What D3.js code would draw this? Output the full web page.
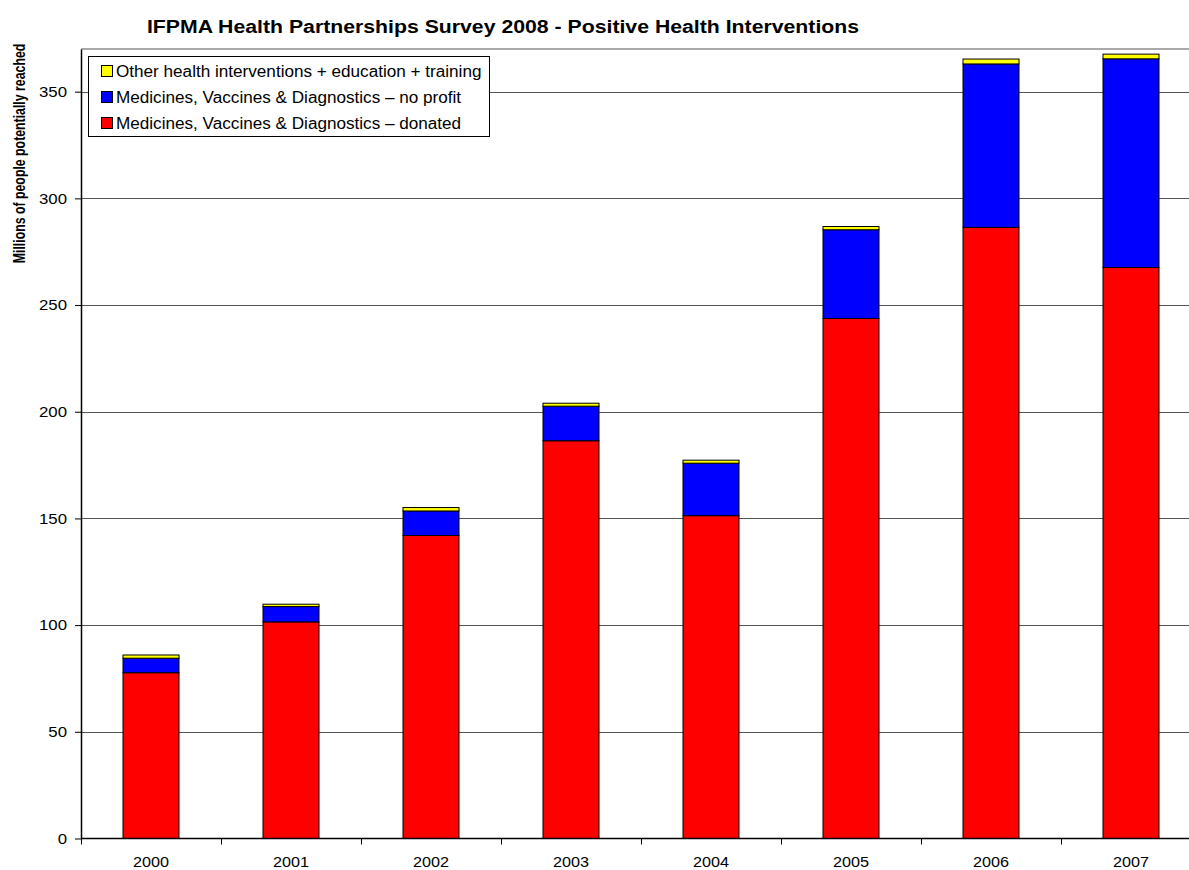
<!DOCTYPE html>
<html>
<head>
<meta charset="utf-8">
<script src="https://cdn.jsdelivr.net/npm/d3@7"></script>
<style>
   body { margin: 0; background: #fff; }
   svg { display: block; font-family: "Liberation Sans", Arial, sans-serif; }
</style>
</head>
<body>
<script>
// values, millions of people
const years = ["2000", "2001", "2002", "2003", "2004", "2005", "2006", "2007"];
const donated = [77.7, 101.5, 142.0, 186.4, 151.3, 243.7, 286.4, 267.6];
const noProfit = [6.8, 7.2, 11.5, 16.2, 24.6, 41.6, 76.6, 97.8];
const otherHealth = [1.5, 1.1, 1.6, 1.4, 1.4, 1.5, 2.3, 2.2];
const yTicks = [0, 50, 100, 150, 200, 250, 300, 350];

const seriesNames = [
   "Medicines, Vaccines & Diagnostics \u2013 donated",
   "Medicines, Vaccines & Diagnostics \u2013 no profit",
   "Other health interventions + education + training"
];
const colours = ["#ff0000", "#0000ff", "#ffff00"];

const W = 1189, H = 870;
const m = { top: 49, left: 81, bottom: 838.5 };
const plotRight = 1201;   // plot runs past the window edge in the original

// the original's text is drawn a bit wider than the font
function stretch(sel, f) {
   sel.each(function() {
      let len = this.getComputedTextLength();
      d3.select(this)
         .attr("textLength", len * f)
         .attr("lengthAdjust", "spacingAndGlyphs");
   });
}

let rows = years.map((y, i) => ({ year: y, d0: donated[i], d1: noProfit[i], d2: otherHealth[i] }));
let stack = d3.stack().keys(["d0", "d1", "d2"])(rows);

let svg = d3.select("body").append("svg")
   .attr("width", W)
   .attr("height", H);

let x = d3.scaleBand()
   .domain(years)
   .range([m.left, plotRight])
   .paddingInner(0.6)
   .paddingOuter(0.3);

let y = d3.scaleLinear()
   .domain([0, 370])
   .range([m.bottom, m.top]);

// plot frame top + gridlines
svg.append("line")
   .attr("x1", m.left).attr("x2", W)
   .attr("y1", m.top).attr("y2", m.top)
   .attr("stroke", "#8c8c8c").attr("stroke-width", 1.5);

svg.append("g")
   .selectAll("line")
   .data(yTicks.slice(1))
 .enter().append("line")
   .attr("x1", m.left).attr("x2", W)
   .attr("y1", d => Math.round(y(d)) + 0.5)
   .attr("y2", d => Math.round(y(d)) + 0.5)
   .attr("stroke", "#555").attr("stroke-width", 1);

// bars
let layer = svg.append("g").selectAll("g")
   .data(stack)
 .enter().append("g")
   .attr("fill", (d, i) => colours[i]);

layer.selectAll("rect")
   .data(d => d)
 .enter().append("rect")
   .attr("x", d => x(d.data.year))
   .attr("width", x.bandwidth())
   .attr("y", d => y(d[1]))
   .attr("height", d => y(d[0]) - y(d[1]))
   .attr("stroke", "#000")
   .attr("stroke-width", 1);

// y axis
let yAxis = svg.append("g")
   .attr("transform", "translate(" + m.left + ",0)")
   .call(d3.axisLeft(y).tickValues(yTicks).tickSizeInner(6).tickSizeOuter(0).tickPadding(8));
yAxis.select(".domain").attr("stroke", "#000").attr("stroke-width", 1.5);
yAxis.selectAll("line").attr("stroke", "#000");
yAxis.selectAll("text").attr("font-size", 15).attr("fill", "#000")
   .attr("font-family", "Liberation Sans, Arial, sans-serif")
   .call(stretch, 1.12);

// x axis: ticks on category boundaries
let xg = svg.append("g");
xg.append("line")
   .attr("x1", m.left).attr("x2", W)
   .attr("y1", m.bottom).attr("y2", m.bottom)
   .attr("stroke", "#000").attr("stroke-width", 1.5);

let edge = (x.step() - x.bandwidth()) / 2;
let bounds = years.map(d => x(d) - edge).concat([x(years[years.length - 1]) + x.bandwidth() + edge]);
xg.selectAll(".xt")
   .data(bounds)
 .enter().append("line")
   .attr("class", "xt")
   .attr("x1", d => Math.round(d) + 0.5).attr("x2", d => Math.round(d) + 0.5)
   .attr("y1", m.bottom).attr("y2", m.bottom + 6)
   .attr("stroke", "#000");

xg.selectAll(".xl")
   .data(years)
 .enter().append("text")
   .attr("class", "xl")
   .attr("x", d => x(d) + x.bandwidth() / 2)
   .attr("y", 867)
   .attr("text-anchor", "middle")
   .attr("font-size", 15)
   .text(d => d)
   .call(stretch, 1.08);

// titles
svg.append("text")
   .attr("x", 503)
   .attr("y", 33)
   .attr("text-anchor", "middle")
   .attr("font-weight", "bold")
   .attr("font-size", 18)
   .text("IFPMA Health Partnerships Survey 2008 - Positive Health Interventions")
   .call(stretch, 1.18);

// condensed axis title: squeeze along its own length
svg.append("text")
   .attr("transform", "translate(24.5,153.5) rotate(-90) scale(0.77,1)")
   .attr("text-anchor", "middle")
   .attr("font-weight", "bold")
   .attr("font-size", 16)
   .text("Millions of people potentially reached");

// legend, top entry is the top of the stack
let legend = svg.append("g");
legend.append("rect")
   .attr("x", 88.5).attr("y", 56.5)
   .attr("width", 401).attr("height", 80)
   .attr("fill", "#fff")
   .attr("stroke", "#000");

let li = legend.selectAll(".li")
   .data([2, 1, 0])
 .enter().append("g")
   .attr("class", "li")
   .attr("transform", (d, i) => "translate(101," + (71 + i * 26) + ")");

li.append("rect")
   .attr("x", 0.5).attr("y", -5.5)
   .attr("width", 11).attr("height", 11)
   .attr("fill", d => colours[d])
   .attr("stroke", "#000");

li.append("text")
   .attr("x", 15)
   .attr("y", 6)
   .attr("font-size", 16)
   .text(d => seriesNames[d])
   .call(stretch, 1.07);
</script>
</body>
</html>
